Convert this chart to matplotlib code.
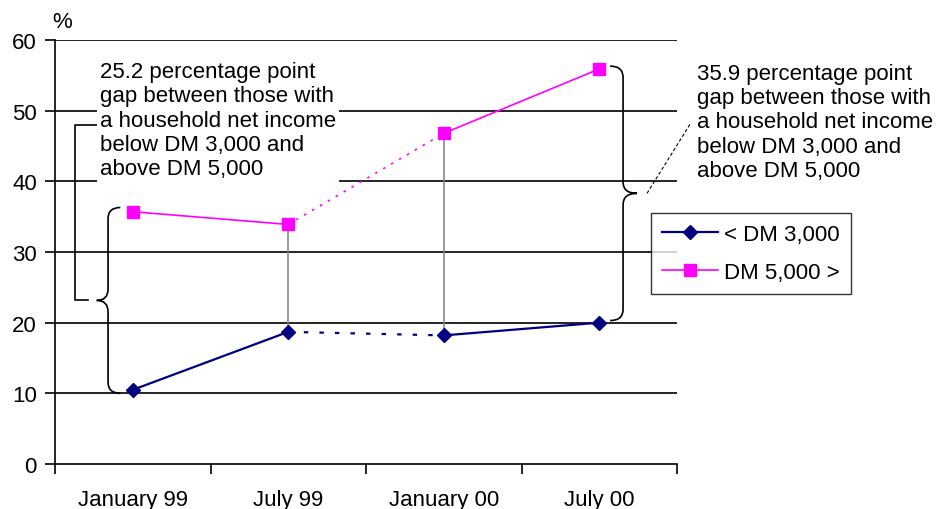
import matplotlib
matplotlib.use("Agg")
import matplotlib.pyplot as plt
from matplotlib.path import Path
from matplotlib.patches import PathPatch
from matplotlib.lines import Line2D

plt.rcParams['font.family'] = ['Liberation Sans', 'DejaVu Sans']

# survey dates and share (%) per income group
periods = ["January 99", "July 99", "January 00", "July 00"]
low_income = [10.5, 18.7, 18.2, 20.0]    # < DM 3,000
high_income = [35.7, 33.9, 46.8, 55.9]   # DM 5,000 >
series_labels = ["< DM 3,000", "DM 5,000 >"]
gap_first = round(high_income[0] - low_income[0], 1)
gap_last = round(high_income[-1] - low_income[-1], 1)

NAVY = "#000080"
MAGENTA = "#FF00FF"
FS = 16


def curly_brace(ax, xv, xe, xc, ytop, ybot, d):
    # brace with its tips at xe, spine at xv and the point at xc
    ymid = (ytop + ybot) / 2
    verts = [(xe, ytop), (xv, ytop), (xv, ytop - d),
             (xv, ymid + d), (xv, ymid), (xc, ymid),
             (xv, ymid), (xv, ymid - d),
             (xv, ybot + d), (xv, ybot), (xe, ybot)]
    codes = [Path.MOVETO, Path.CURVE3, Path.CURVE3,
             Path.LINETO, Path.CURVE3, Path.CURVE3,
             Path.CURVE3, Path.CURVE3,
             Path.LINETO, Path.CURVE3, Path.CURVE3]
    ax.add_patch(PathPatch(Path(verts, codes), fill=False, edgecolor="black",
                           lw=1.2, clip_on=False, zorder=4))
    return ymid


fig = plt.figure(figsize=(9.39, 5.10), dpi=100)
ax = fig.add_axes([0.0586, 0.0882, 0.6624, 0.8314])

x = list(range(len(periods)))

# horizontal grid
for yv in range(10, 61, 10):
    ax.axhline(yv, color="black", lw=1.2, zorder=1)

# gaps at the middle dates
for i in (1, 2):
    ax.plot([x[i], x[i]], [low_income[i], high_income[i]], color="#808080",
            lw=1.1, zorder=2)

# lines: solid, dotted across the missing half-year, solid
for vals, col, lw, dots in ((low_income, NAVY, 1.6, (0, (2, 5))),
                            (high_income, MAGENTA, 1.2, (0, (1.5, 4)))):
    ax.plot(x[0:2], vals[0:2], color=col, lw=lw, zorder=3)
    ax.plot(x[1:3], vals[1:3], color=col, lw=lw, linestyle=dots, zorder=3)
    ax.plot(x[2:4], vals[2:4], color=col, lw=lw, zorder=3)

ax.plot(x, low_income, linestyle="none", marker="D", ms=7.5, color=NAVY, zorder=5)
ax.plot(x, high_income, linestyle="none", marker="s", ms=8, color=MAGENTA, zorder=5)

ax.set_xlim(-0.5, 3.5)
ax.set_ylim(0, 60)
ax.set_yticks(range(0, 61, 10))
ax.set_xticks([-0.5, 0.5, 1.5, 2.5, 3.5])
ax.set_xticklabels([])
ax.set_xticks(x, minor=True)
ax.set_xticklabels(periods, minor=True)
ax.tick_params(axis="x", which="major", length=7, width=1.2, direction="out")
ax.tick_params(axis="x", which="minor", length=0, pad=18, labelsize=FS)
ax.tick_params(axis="y", length=7, width=1.2, labelsize=FS, pad=6)
for s in ("top", "right"):
    ax.spines[s].set_visible(False)
for s in ("left", "bottom"):
    ax.spines[s].set_linewidth(1.2)

fig.text(52 / 939, 1 - 22 / 510, "%", fontsize=FS, va="center")

# left brace and its bracket to the note
ymid = curly_brace(ax, -0.159, -0.08, -0.232, high_income[0] + 0.6,
                   low_income[0] - 0.5, 1.6)
ax.plot([-0.29, -0.371, -0.371, -0.22], [ymid, ymid, 48, 48], color="black",
        lw=1.2, clip_on=False, zorder=4)

note = ("{} percentage point\ngap between those with\na household net income\n"
        "below DM 3,000 and\nabove DM 5,000")
ax.text(-0.21, 57.0, note.format(gap_first), fontsize=FS, va="top", ha="left",
        linespacing=1.2, zorder=6,
        bbox=dict(facecolor="white", edgecolor="none", pad=2))

# right brace with dashed leader to the note
ymid = curly_brace(ax, 3.153, 3.07, 3.243, high_income[-1] + 0.4,
                   low_income[-1] + 0.3, 1.6)
ax.plot([3.307, 3.584], [ymid, 48.1], color="black", lw=0.8,
        linestyle=(0, (3, 2)), clip_on=False, zorder=4)
fig.text(697 / 939, 1 - 64 / 510, note.format(gap_last), fontsize=FS,
         va="top", ha="left", linespacing=1.2)

handles = [Line2D([], [], color=NAVY, lw=1.6, marker="D", ms=7.5),
           Line2D([], [], color=MAGENTA, lw=1.2, marker="s", ms=8)]
leg = fig.legend(handles, series_labels, loc="upper left",
                 bbox_to_anchor=(651 / 939, 1 - 214 / 510), borderaxespad=0,
                 fontsize=FS, frameon=True, fancybox=False, handlelength=2.5,
                 handletextpad=0.3, borderpad=0.5, labelspacing=0.75)
leg.get_frame().set_edgecolor("black")
leg.get_frame().set_linewidth(1.0)

fig.savefig("out.png", dpi=100)
